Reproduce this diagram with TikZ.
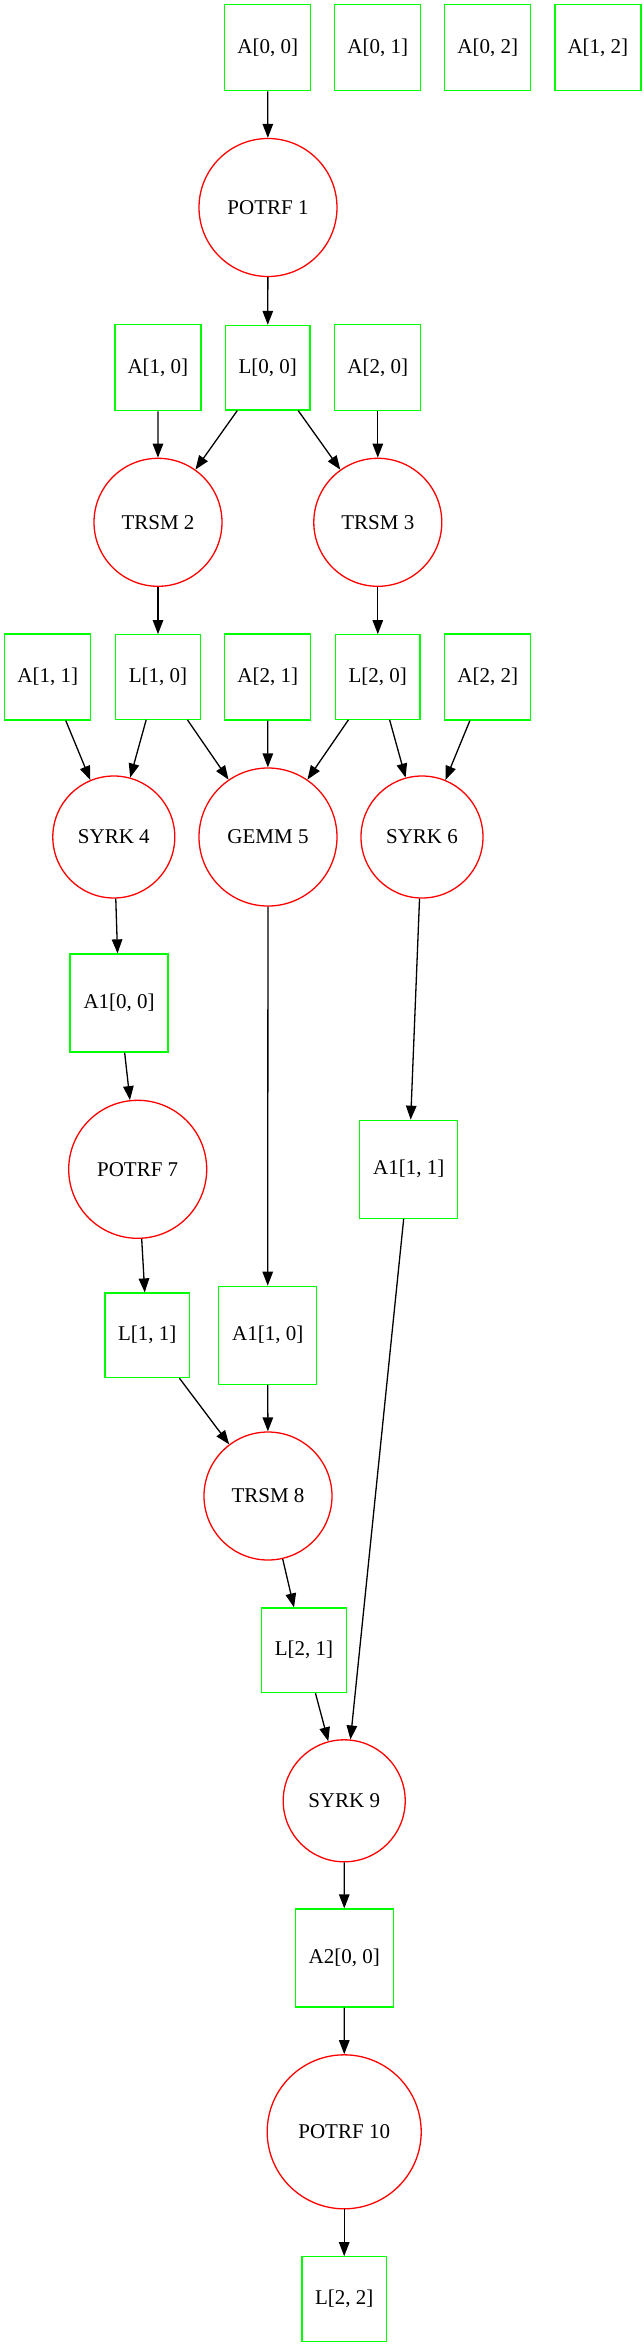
\documentclass[tikz,border=0pt]{standalone}
\usepackage{fontspec}
\setmainfont{Liberation Serif}
\usetikzlibrary{arrows.meta}
\definecolor{gvgreen}{RGB}{0,255,0}
\definecolor{gvred}{RGB}{255,0,0}
\begin{document}
\begin{tikzpicture}[x=1pt,y=-1pt,
  every node/.style={font=\fontsize{21}{24}\selectfont, inner sep=0pt},
  databox/.style={draw=gvgreen, line width=1.3pt, rectangle, minimum width=#1, minimum height=#1},
  databox/.default=86pt,
  task/.style={draw=gvred, line width=1.3pt, circle, minimum size=#1},
  edge/.style={draw=black, line width=1.3pt, -{Triangle[length=14pt,width=10.5pt]}}]
\useasboundingbox (0,0) rectangle (643,2347);
% row 0
\node[databox] (a00) at (267.7,47.7) {A[0, 0]};
\node[databox] (a01) at (377.8,47.7) {A[0, 1]};
\node[databox] (a02) at (487.8,47.7) {A[0, 2]};
\node[databox] (a12) at (597.9,47.7) {A[1, 2]};
\node[task=138pt] (p1) at (268,207.5) {POTRF 1};
% row 2
\node[databox] (a10) at (157.9,367.7) {A[1, 0]};
\node[databox=84.5pt] (l00) at (267.7,367.7) {L[0, 0]};
\node[databox] (a20) at (377.8,367.7) {A[2, 0]};
\node[task=128pt] (t2) at (158,522.3) {TRSM 2};
\node[task=128pt] (t3) at (377.8,522.3) {TRSM 3};
% row 4
\node[databox] (a11) at (47.8,677) {A[1, 1]};
\node[databox=84.5pt] (l10) at (158,677) {L[1, 0]};
\node[databox] (a21) at (267.7,677) {A[2, 1]};
\node[databox=84.5pt] (l20) at (377.8,677) {L[2, 0]};
\node[databox] (a22) at (487.8,677) {A[2, 2]};
\node[task=122pt] (s4) at (113.8,837) {SYRK 4};
\node[task=138pt] (g5) at (268,837) {GEMM 5};
\node[task=122pt] (s6) at (422,837) {SYRK 6};
% lower part
\node[databox=98pt] (b00) at (119.1,1003) {A1[0, 0]};
\node[task=138pt] (p7) at (137.7,1169.3) {POTRF 7};
\node[databox=98pt] (b11) at (408.7,1169.3) {A1[1, 1]};
\node[databox=84.5pt] (l11) at (147.2,1335.3) {L[1, 1]};
\node[databox=98pt] (b10) at (267.7,1335.3) {A1[1, 0]};
\node[task=128pt] (t8) at (268,1496) {TRSM 8};
\node[databox=84.5pt] (l21) at (304,1650.3) {L[2, 1]};
\node[task=122pt] (s9) at (344.2,1800.8) {SYRK 9};
\node[databox=98pt] (c00) at (344.3,1958) {A2[0, 0]};
\node[task=154pt] (p10) at (344.2,2131.8) {POTRF 10};
\node[databox=84.5pt] (l22) at (344.2,2299) {L[2, 2]};
% edges
\draw[edge] (a00) -- (p1);
\draw[edge] (p1) -- (l00);
\draw[edge] (a10) -- (t2);
\draw[edge] (l00) -- (t2);
\draw[edge] (l00) -- (t3);
\draw[edge] (a20) -- (t3);
\draw[edge] (t2) -- (l10);
\draw[edge] (t3) -- (l20);
\draw[edge] (a11) -- (s4);
\draw[edge] (l10) -- (s4);
\draw[edge] (l10) -- (g5);
\draw[edge] (a21) -- (g5);
\draw[edge] (l20) -- (g5);
\draw[edge] (l20) -- (s6);
\draw[edge] (a22) -- (s6);
\draw[edge] (s4) -- (b00);
\draw[edge] (g5) -- (b10);
\draw[edge] (s6) -- (b11);
\draw[edge] (b00) -- (p7);
\draw[edge] (p7) -- (l11);
\draw[edge] (l11) -- (t8);
\draw[edge] (b10) -- (t8);
\draw[edge] (t8) -- (l21);
\draw[edge] (l21) -- (s9);
\draw[edge] (b11) -- (s9);
\draw[edge] (s9) -- (c00);
\draw[edge] (c00) -- (p10);
\draw[edge] (p10) -- (l22);
\end{tikzpicture}
\end{document}
